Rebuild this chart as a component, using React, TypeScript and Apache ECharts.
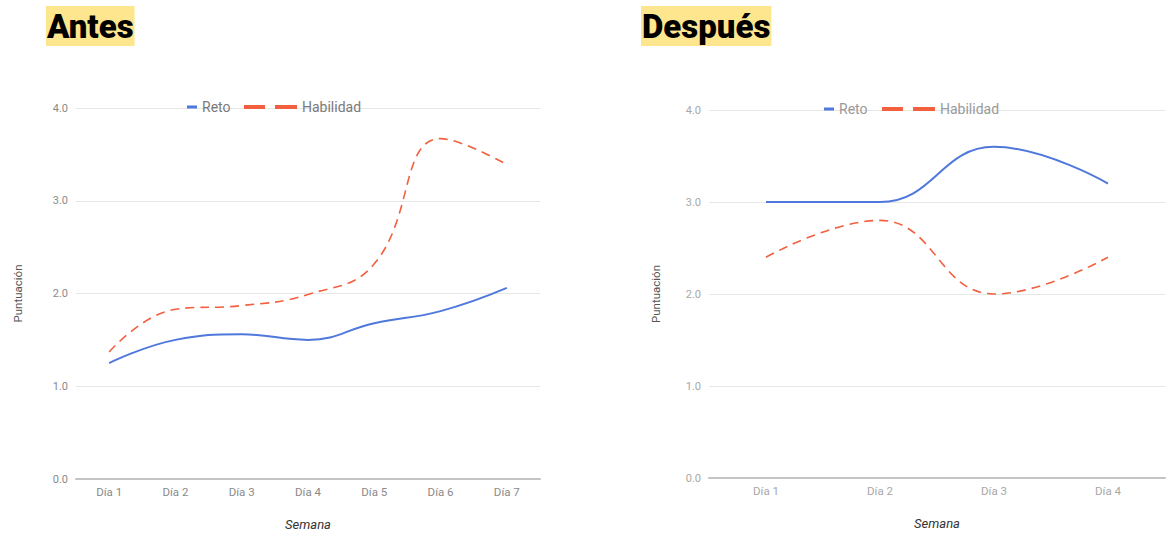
import React, { useEffect, useRef } from "react";
import * as echarts from "echarts";

// Categories and scores for both periods
const diasAntes = ["Día 1", "Día 2", "Día 3", "Día 4", "Día 5", "Día 6", "Día 7"];
const retoAntes = [1.25, 1.5, 1.56, 1.5, 1.68, 1.81, 2.06];
const habilidadAntes = [1.37, 1.83, 1.87, 1.99, 2.32, 3.67, 3.39];

const diasDespues = ["Día 1", "Día 2", "Día 3", "Día 4"];
const retoDespues = [3.0, 3.0, 3.6, 3.2];
const habilidadDespues = [2.4, 2.8, 2.0, 2.4];

const yTicks = [0, 1, 2, 3, 4];

const BLUE = "#4f78dc";
const RED = "#f2603f";
const FONT = "Roboto, 'Noto Sans', Arial, sans-serif";

// Legend glyph for the dashed series: two dashes side by side
const DASH_ICON = "path://M0,0H21V4H0Z M31,0H53V4H31Z";

function axesFor(idx: number, cats: string[], labelColor: string) {
  const xAxis = {
    type: "category",
    gridIndex: idx,
    data: cats,
    boundaryGap: true,
    name: "Semana",
    nameLocation: "middle",
    nameGap: 39,
    nameTextStyle: { fontFamily: FONT, fontStyle: "italic", fontSize: 13, color: "#333" },
    axisLine: { show: true, lineStyle: { color: "#c4c4c4", width: 2 } },
    axisTick: { show: false },
    axisLabel: { fontFamily: FONT, fontSize: 11.5, color: labelColor, margin: 7 },
    splitLine: { show: false },
  };
  const yAxis = {
    type: "value",
    gridIndex: idx,
    min: yTicks[0],
    max: yTicks[yTicks.length - 1],
    interval: 1,
    name: "Puntuación",
    nameLocation: "middle",
    nameGap: idx === 0 ? 52 : 47,
    nameTextStyle: { fontFamily: FONT, fontSize: 11.5, color: "#555" },
    axisLine: { show: false },
    axisTick: { show: false },
    axisLabel: {
      fontFamily: FONT,
      fontSize: 11,
      color: labelColor,
      margin: 8,
      formatter: (v: number) => v.toFixed(1),
    },
    splitLine: { show: true, lineStyle: { color: "#e6e6e6", width: 1 } },
  };
  return { xAxis, yAxis };
}

function seriesFor(idx: number, reto: number[], habilidad: number[]) {
  return [
    {
      name: "Reto",
      type: "line",
      xAxisIndex: idx,
      yAxisIndex: idx,
      data: reto,
      smooth: 0.45,
      symbol: "none",
      lineStyle: { color: BLUE, width: 2 },
      itemStyle: { color: BLUE },
      z: 3,
    },
    {
      name: "Habilidad",
      type: "line",
      xAxisIndex: idx,
      yAxisIndex: idx,
      data: habilidad,
      smooth: 0.45,
      symbol: "none",
      lineStyle: { color: RED, width: 1.6, type: [9, 6] },
      itemStyle: { color: RED },
      z: 2,
    },
  ];
}

function legendsFor(retoX: number, habX: number, top: number, textColor: string) {
  const textStyle = { fontFamily: FONT, fontSize: 14, color: textColor };
  return [
    {
      data: [{ name: "Reto", icon: "rect" }],
      left: retoX,
      top,
      padding: 0,
      itemWidth: 10,
      itemHeight: 3,
      itemGap: 0,
      textStyle,
      itemStyle: { color: BLUE },
      selectedMode: false,
    },
    {
      data: [{ name: "Habilidad", icon: DASH_ICON }],
      left: habX,
      top,
      padding: 0,
      itemWidth: 53,
      itemHeight: 4,
      itemGap: 0,
      textStyle,
      itemStyle: { color: RED },
      selectedMode: false,
    },
  ];
}

function titleFor(text: string, left: number, top: number) {
  return {
    text,
    left,
    top,
    padding: [0, 1, 0, 1],
    backgroundColor: "#fde68e",
    textStyle: {
      fontFamily: FONT,
      fontSize: 33,
      lineHeight: 40,
      fontWeight: 900,
      color: "#000",
    },
  };
}

export default function App() {
  const ref = useRef<HTMLDivElement>(null);

  useEffect(() => {
    if (!ref.current) return;
    const chart = echarts.init(ref.current, null, { renderer: "svg" });

    const a = axesFor(0, diasAntes, "#8a8a8a");
    const b = axesFor(1, diasDespues, "#a8a8a8");

    chart.setOption({
      animation: false,
      backgroundColor: "#ffffff",
      title: [titleFor("Antes", 46, 6), titleFor("Después", 641, 6)],
      legend: [
        ...legendsFor(187, 244, 100, "#7a7a7a"),
        ...legendsFor(824, 882, 102, "#9a9a9a"),
      ],
      grid: [
        {
          left: 76,
          right: 1172 - 540,
          top: 108,
          bottom: 535 - 479,
          containLabel: false,
          outerBoundsMode: "none",
        },
        {
          left: 709,
          right: 1172 - 1165,
          top: 110,
          bottom: 535 - 478,
          containLabel: false,
          outerBoundsMode: "none",
        },
      ],
      xAxis: [a.xAxis, b.xAxis],
      yAxis: [a.yAxis, b.yAxis],
      series: [
        ...seriesFor(0, retoAntes, habilidadAntes),
        ...seriesFor(1, retoDespues, habilidadDespues),
      ],
    });

    return () => chart.dispose();
  }, []);

  return (
    <div
      ref={ref}
      style={{ position: "fixed", left: 0, top: 0, width: 1172, height: 535, background: "#fff" }}
    />
  );
}
